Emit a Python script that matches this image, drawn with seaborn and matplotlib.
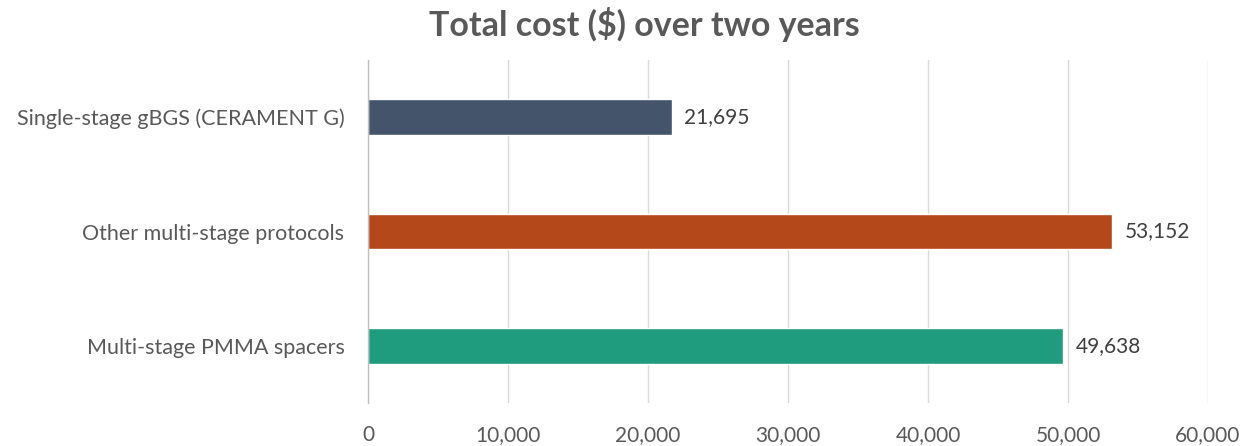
import matplotlib
matplotlib.use("Agg")
import matplotlib.pyplot as plt
import seaborn as sns
import pandas as pd
from matplotlib.ticker import FuncFormatter

categories = ["Single-stage gBGS (CERAMENT G)", "Other multi-stage protocols", "Multi-stage PMMA spacers"]
values = [21695, 53152, 49638]
colors = ["#44546A", "#B5481A", "#1E9C7D"]
xticks = [0, 10000, 20000, 30000, 40000, 50000, 60000]

sns.set_theme(style="white")
plt.rcParams['font.family'] = ['Lato', 'DejaVu Sans']

df = pd.DataFrame({"cat": categories, "val": values})

fig = plt.figure(figsize=(12.43, 4.46), dpi=100)
ax = fig.add_axes([368/1243, 1-403/446, (1208-368)/1243, (403-60)/446])

sns.barplot(data=df, y="cat", x="val", hue="cat", palette=colors, orient="h",
            width=0.31, legend=False, ax=ax, saturation=1)

ax.set_xlim(0, 60000)
ax.set_ylim(2.5, -0.5)
ax.set_xticks(xticks)
ax.xaxis.set_major_formatter(FuncFormatter(lambda v, p: f"{int(v):,}"))
ax.grid(axis="x", color="#D9D9D9", linewidth=1)
ax.set_axisbelow(True)
for s in ["top", "right", "bottom"]:
    ax.spines[s].set_visible(False)
ax.spines["left"].set_color("#BFBFBF")
ax.spines["left"].set_linewidth(1)
ax.tick_params(axis="x", length=0, pad=16, labelsize=15, labelcolor="#595959")
ax.tick_params(axis="y", length=0, pad=17, labelsize=15.5, labelcolor="#595959")
ax.set_xlabel("")
ax.set_ylabel("")

for i, v in enumerate(values):
    ax.text(v + 900, i, f"{v:,}", va="center", ha="left", fontsize=15, color="#404040")

fig.suptitle("Total cost ($) over two years", x=644/1243, y=0.985, fontsize=24.5,
             fontweight="bold", color="#595959")

fig.savefig("out.png", dpi=100)
